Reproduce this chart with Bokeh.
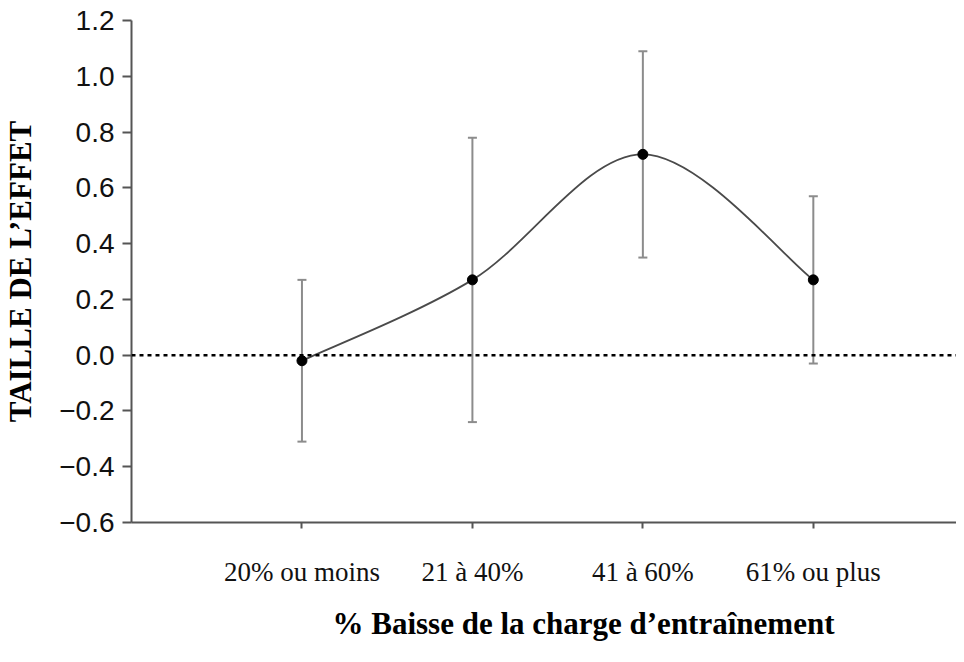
from bokeh.plotting import figure
from bokeh.models import (ColumnDataSource, FixedTicker, Whisker, TeeHead, Title,
                          Range1d, Span)
from bokeh.embed import file_html
from bokeh.resources import INLINE

# ---- data ----
categories = ["20% ou moins", "21 à 40%", "41 à 60%", "61% ou plus"]
effect = [-0.02, 0.27, 0.72, 0.27]
upper = [0.27, 0.78, 1.09, 0.57]
lower = [-0.31, -0.24, 0.35, -0.03]
y_ticks = [-0.6, -0.4, -0.2, 0.0, 0.2, 0.4, 0.6, 0.8, 1.0, 1.2]

xpos = list(range(1, len(categories) + 1))

p = figure(width=956, height=654, output_backend="svg", toolbar_location=None,
           x_range=Range1d(0, 4.84), y_range=Range1d(-0.6, 1.2),
           min_border_left=131, min_border_right=0, min_border_top=20,
           min_border_bottom=132, background_fill_color="white",
           border_fill_color="white")
p.outline_line_color = None
p.grid.visible = False

# zero reference line
p.add_layout(Span(location=0, dimension="width", line_color="black",
                  line_width=2.5, line_dash="4 4"))

# smoothed line through the points (Catmull-Rom style bezier segments)
pts = list(zip(xpos, effect))
ext = [pts[0]] + pts + [pts[-1]]
bx0, by0, bx1, by1, c0x, c0y, c1x, c1y = [], [], [], [], [], [], [], []
for i in range(1, len(ext) - 2):
    p0, p1, p2, p3 = ext[i - 1], ext[i], ext[i + 1], ext[i + 2]
    bx0.append(p1[0]); by0.append(p1[1])
    bx1.append(p2[0]); by1.append(p2[1])
    c0x.append(p1[0] + (p2[0] - p0[0]) / 6); c0y.append(p1[1] + (p2[1] - p0[1]) / 6)
    c1x.append(p2[0] - (p3[0] - p1[0]) / 6); c1y.append(p2[1] - (p3[1] - p1[1]) / 6)
p.bezier(x0=bx0, y0=by0, x1=bx1, y1=by1, cx0=c0x, cy0=c0y, cx1=c1x, cy1=c1y,
         line_color="#4a4a4a", line_width=1.8)

# error bars
src = ColumnDataSource(dict(x=xpos, y=effect, up=upper, lo=lower))
wh = Whisker(source=src, base="x", upper="up", lower="lo", dimension="height",
             line_color="#8c8c8c", line_width=2,
             upper_head=TeeHead(size=9, line_color="#8c8c8c", line_width=2),
             lower_head=TeeHead(size=9, line_color="#8c8c8c", line_width=2))
p.add_layout(wh)

p.scatter("x", "y", source=src, size=10, fill_color="black", line_color="black")

# axes
for ax in (p.xaxis[0], p.yaxis[0]):
    ax.axis_line_color = "#555555"
    ax.axis_line_width = 2
    ax.major_tick_line_color = "#555555"
    ax.major_tick_line_width = 2
    ax.minor_tick_line_color = None
    ax.major_tick_in = 0

p.yaxis.ticker = FixedTicker(ticks=y_ticks)
p.yaxis.major_label_overrides = {t: f"{t:.1f}".replace("-", "\u2212") for t in y_ticks}
p.yaxis.major_tick_out = 9
p.yaxis.major_label_standoff = 8
p.yaxis.major_label_text_font = "Liberation Sans"
p.yaxis.major_label_text_font_size = "28px"
p.yaxis.major_label_text_color = "#111111"
p.yaxis.axis_label = "TAILLE DE L\u2019EFFET"
p.yaxis.axis_label_text_font = "Liberation Serif"
p.yaxis.axis_label_text_font_style = "bold"
p.yaxis.axis_label_text_font_size = "31px"
p.yaxis.axis_label_text_color = "black"
p.yaxis.axis_label_standoff = 18

p.xaxis.ticker = FixedTicker(ticks=xpos)
p.xaxis.major_label_overrides = {x: c for x, c in zip(xpos, categories)}
p.xaxis.major_tick_out = 6
p.xaxis.major_label_standoff = 28
p.xaxis.major_label_text_font = "Liberation Serif"
p.xaxis.major_label_text_font_size = "27px"
p.xaxis.major_label_text_color = "#111111"

p.add_layout(Title(text="% Baisse de la charge d\u2019entraînement", align="left",
                   offset=201, standoff=28, text_font="Liberation Serif",
                   text_font_style="bold", text_font_size="31px",
                   text_color="black"), "below")

open("out.html", "w").write(file_html(p, INLINE))
